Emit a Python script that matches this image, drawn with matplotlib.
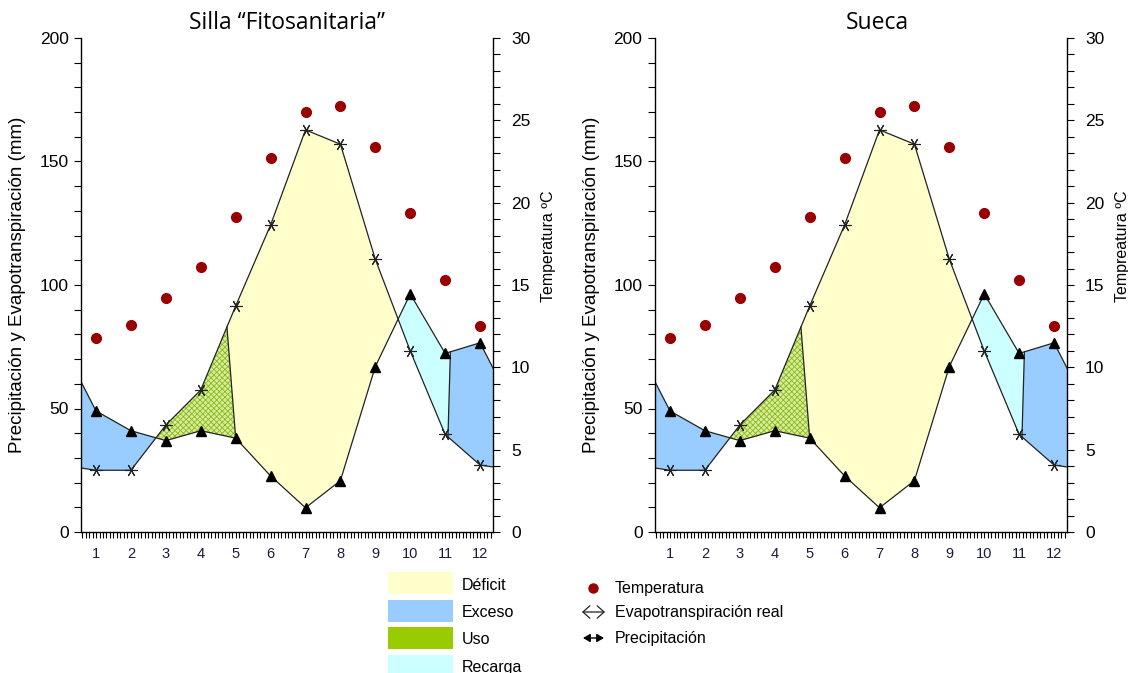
import numpy as np
import matplotlib
matplotlib.use('Agg')
import matplotlib.pyplot as plt
from matplotlib.patches import Rectangle, FancyArrowPatch
from matplotlib.lines import Line2D
from matplotlib.ticker import MultipleLocator

plt.rcParams['font.family'] = ['Liberation Sans', 'DejaVu Sans']
plt.rcParams['hatch.linewidth'] = 0.6

# --- Datos (balance hídrico) ---
titulos = ['Silla \u201cFitosanitaria\u201d', 'Sueca']
etiquetas_temp = ['Temperatura ºC', 'Tempreatura ºC']
meses = np.arange(1, 13)
precipitacion = [49, 41, 37, 41, 38, 22.7, 9.8, 20.8, 67, 96.4, 72.3, 76.6]
etr = [25, 25, 43.3, 57.5, 91.5, 124.3, 162.8, 157, 110.4, 73.3, 39.5, 27.1]
temperatura = [11.8, 12.6, 14.2, 16.1, 19.1, 22.7, 25.5, 25.9, 23.4, 19.4, 15.3, 12.5]
# fin del periodo de uso / recarga (mes, sobre ETR y sobre P)
fin_uso = (4.75, 5.0)
fin_recarga = (11.15, 11.08)

colores = {'Déficit': '#ffffcc', 'Exceso': '#99ccff', 'Uso': '#99cc00', 'Recarga': '#ccffff'}
rojo = '#990000'
x_lim = (0.57, 12.37)

# extension ciclica (dic antes de ene, ene despues de dic)
x_ext = np.concatenate([[0], meses, [13]])


def ciclo(v):
    v = np.asarray(v, float)
    return np.concatenate([[v[-1]], v, [v[0]]])


p_ext = ciclo(precipitacion)
e_ext = ciclo(etr)


def valor(serie, x):
    return np.interp(x, x_ext, serie)


def tramo(serie, a, b):
    xs = np.concatenate([[a], meses[(meses > a) & (meses < b)], [b]])
    return xs, valor(serie, xs)


def region(ax, sup, a1, b1, inf, a2, b2, **kw):
    xs1, ys1 = tramo(sup, a1, b1)
    xs2, ys2 = tramo(inf, a2, b2)
    ax.fill(np.concatenate([xs1, xs2[::-1]]), np.concatenate([ys1, ys2[::-1]]),
            lw=0, **kw)


# cruces entre precipitacion y ETR
d = p_ext - e_ext
cruces = [x_ext[i] + d[i] / (d[i] - d[i + 1])
          for i in range(len(d) - 1) if d[i] * d[i + 1] < 0]
c1, c2 = cruces

fig = plt.figure(figsize=(11.28, 6.73), dpi=100)
W, H = 1128, 673
lefts = [81, 655]

for k, left in enumerate(lefts):
    ax = fig.add_axes([left / W, 141 / H, 412 / W, 494 / H])
    x0, x1 = x_lim

    region(ax, p_ext, x0, c1, e_ext, x0, c1, color=colores['Exceso'])
    region(ax, e_ext, c1, fin_uso[0], p_ext, c1, fin_uso[1],
           facecolor='#d6eba4', edgecolor='#8dbb10', hatch='xxxxxx')
    region(ax, e_ext, fin_uso[0], c2, p_ext, fin_uso[1], c2, color=colores['Déficit'])
    region(ax, p_ext, c2, fin_recarga[0], e_ext, c2, fin_recarga[1], color=colores['Recarga'])
    region(ax, p_ext, fin_recarga[0], x1, e_ext, fin_recarga[1], x1, color=colores['Exceso'])

    ax.plot(x_ext, p_ext, color='#222222', lw=0.9)
    ax.plot(x_ext, e_ext, color='#222222', lw=0.9)
    ax.plot([fin_uso[0], fin_uso[1]],
            [valor(e_ext, fin_uso[0]), valor(p_ext, fin_uso[1])], color='#222222', lw=0.9)
    ax.plot([fin_recarga[0], fin_recarga[1]],
            [valor(p_ext, fin_recarga[0]), valor(e_ext, fin_recarga[1])], color='#222222', lw=0.9)
    ax.plot(meses, precipitacion, ls='none', marker='^', ms=6.5, color='black')
    ax.plot(meses, etr, ls='none', marker=(6, 2, 90), ms=9, mec='#222222', mew=0.8)

    ax.set_xlim(x_lim)
    ax.set_ylim(0, 200)
    ax.xaxis.set_major_locator(MultipleLocator(1))
    ax.xaxis.set_minor_locator(MultipleLocator(0.1))
    ax.yaxis.set_major_locator(MultipleLocator(50))
    ax.yaxis.set_minor_locator(MultipleLocator(10))
    ax.tick_params(axis='y', which='both', direction='out', length=5, width=0.8,
                   labelsize=12.5, pad=4)
    ax.tick_params(axis='x', which='both', direction='out', length=4, width=0.8,
                   labelsize=10.5, pad=7, labelcolor='#1b1b3a')
    ax.spines['top'].set_visible(False)
    ax.spines['right'].set_visible(False)
    for s in ['left', 'bottom']:
        ax.spines[s].set_linewidth(1.0)

    ax2 = ax.twinx()
    ax2.plot(meses, temperatura, ls='none', marker='o', ms=7, color=rojo)
    ax2.set_ylim(0, 30)
    ax2.yaxis.set_major_locator(MultipleLocator(5))
    ax2.yaxis.set_minor_locator(MultipleLocator(1))
    ax2.tick_params(axis='y', which='both', direction='out', length=5, width=0.8,
                    labelsize=12.5, pad=8)
    for s in ['top', 'left', 'bottom']:
        ax2.spines[s].set_visible(False)
    ax2.spines['right'].set_linewidth(1.0)

    tx = 0.5 if k == 0 else 0.54
    ax.text(tx, 1.03, titulos[k], transform=ax.transAxes, ha='center', va='center',
            fontsize=16.5, family=['Open Sans', 'DejaVu Sans'])

    fig.text((left - 63) / W, 1 - 285 / H, 'Precipitación y Evapotranspiración (mm)',
             rotation=90, ha='center', va='center', fontsize=13.5)
    fig.text((left + 467) / W, 1 - 246 / H, etiquetas_temp[k],
             rotation=90, ha='center', va='center', fontsize=11.5)


def fx(x):
    return x / W


def fy(y):
    return 1 - y / H


# leyenda de areas
for i, nombre in enumerate(['Déficit', 'Exceso', 'Uso', 'Recarga']):
    top = 572 + i * 27.5
    fig.add_artist(Rectangle((fx(388), fy(top + 22)), 65 / W, 22 / H,
                             transform=fig.transFigure, facecolor=colores[nombre],
                             edgecolor='none'))
    fig.text(fx(462), fy(top + 13), nombre, ha='left', va='center', fontsize=11.5)

# leyenda de series
fig.add_artist(Line2D([fx(593)], [fy(588)], marker='o', ms=6.5, color=rojo,
                      transform=fig.transFigure))
fig.add_artist(FancyArrowPatch((fx(582), fy(612)), (fx(605), fy(612)),
                               arrowstyle='<->, head_length=0.5, head_width=0.45',
                               mutation_scale=10, lw=0.9, shrinkA=0, shrinkB=0,
                               color='#222222', transform=fig.transFigure))
fig.add_artist(FancyArrowPatch((fx(583), fy(638)), (fx(604), fy(638)),
                               arrowstyle='<|-|>, head_length=0.6, head_width=0.35',
                               mutation_scale=7, lw=1.0, shrinkA=0, shrinkB=0,
                               color='black', transform=fig.transFigure))
for y, txt in [(589, 'Temperatura'), (613, 'Evapotranspiración real'), (638, 'Precipitación')]:
    fig.text(fx(615), fy(y), txt, ha='left', va='center', fontsize=11.5)

fig.savefig('out.png', dpi=100)
